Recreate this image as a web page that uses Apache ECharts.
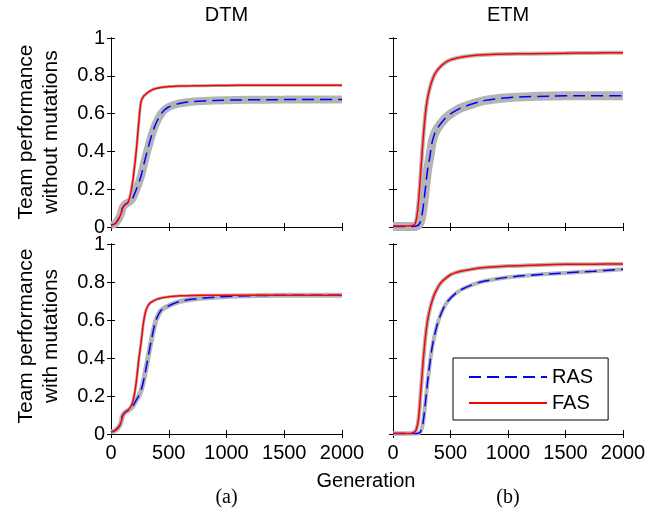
<!DOCTYPE html>
<html>
<head>
<meta charset="utf-8">
<script src="https://cdn.jsdelivr.net/npm/echarts@6/dist/echarts.min.js"></script>
<style>
  html, body { margin: 0; padding: 0; background: #fff; }
  #chart { width: 671px; height: 515px; }
</style>
</head>
<body>
<div id="chart"></div>
<script>
// generations sampled along the x axis
const gens = [0, 40, 80, 100, 120, 150, 180, 200, 220, 240, 260, 280, 300, 320, 340, 360, 380, 400, 430, 460, 500, 550, 600, 700, 800, 1000, 1200, 1500, 1750, 2000];

// DTM, without mutations
const dtmNoMutRAS = [0.01, 0.02, 0.06, 0.1, 0.118, 0.13, 0.145, 0.17, 0.2, 0.232, 0.27, 0.32, 0.37, 0.415, 0.46, 0.5, 0.535, 0.562, 0.595, 0.618, 0.635, 0.647, 0.655, 0.663, 0.667, 0.671, 0.673, 0.674, 0.675, 0.675];
const dtmNoMutFAS = [0.01, 0.02, 0.06, 0.1, 0.118, 0.134, 0.21, 0.3, 0.41, 0.55, 0.663, 0.69, 0.702, 0.712, 0.72, 0.727, 0.731, 0.734, 0.738, 0.741, 0.743, 0.745, 0.746, 0.747, 0.748, 0.749, 0.75, 0.75, 0.75, 0.75];
// ETM, without mutations
const etmNoMutRAS = [0.003, 0.003, 0.003, 0.003, 0.003, 0.003, 0.003, 0.005, 0.01, 0.03, 0.095, 0.195, 0.3, 0.37, 0.448, 0.49, 0.515, 0.535, 0.558, 0.578, 0.598, 0.617, 0.632, 0.653, 0.67, 0.684, 0.69, 0.694, 0.695, 0.695];
const etmNoMutFAS = [0.005, 0.005, 0.005, 0.005, 0.005, 0.006, 0.01, 0.03, 0.12, 0.28, 0.45, 0.59, 0.68, 0.735, 0.775, 0.805, 0.825, 0.84, 0.858, 0.872, 0.884, 0.893, 0.9, 0.907, 0.911, 0.915, 0.917, 0.919, 0.921, 0.922];
// DTM, with mutations
const dtmMutRAS = [0.01, 0.02, 0.05, 0.095, 0.113, 0.125, 0.14, 0.158, 0.18, 0.2, 0.228, 0.275, 0.335, 0.4, 0.465, 0.525, 0.58, 0.615, 0.648, 0.663, 0.675, 0.688, 0.698, 0.709, 0.716, 0.724, 0.728, 0.73, 0.73, 0.73];
const dtmMutFAS = [0.01, 0.02, 0.05, 0.095, 0.113, 0.126, 0.155, 0.2, 0.28, 0.39, 0.48, 0.582, 0.645, 0.675, 0.69, 0.698, 0.705, 0.71, 0.715, 0.719, 0.722, 0.725, 0.727, 0.729, 0.73, 0.73, 0.73, 0.73, 0.73, 0.73];
// ETM, with mutations
const etmMutRAS = [0.002, 0.002, 0.002, 0.002, 0.002, 0.002, 0.002, 0.002, 0.004, 0.012, 0.055, 0.155, 0.27, 0.37, 0.455, 0.515, 0.565, 0.605, 0.65, 0.685, 0.715, 0.742, 0.762, 0.788, 0.805, 0.825, 0.836, 0.848, 0.857, 0.867];
const etmMutFAS = [0.003, 0.003, 0.003, 0.003, 0.003, 0.003, 0.008, 0.02, 0.07, 0.21, 0.365, 0.5, 0.595, 0.655, 0.7, 0.735, 0.76, 0.782, 0.805, 0.82, 0.838, 0.85, 0.858, 0.869, 0.876, 0.884, 0.888, 0.893, 0.894, 0.895];

const xTicks = [0, 500, 1000, 1500, 2000];
const yTicks = [0, 0.2, 0.4, 0.6, 0.8, 1];

const FONT = 'Liberation Sans';

const grids = [
  { left: 111, top: 38, width: 231, height: 189 },
  { left: 393, top: 38, width: 230, height: 189 },
  { left: 111, top: 244, width: 231, height: 190 },
  { left: 393, top: 244, width: 230, height: 190 }
];

const panels = [
  { ras: dtmNoMutRAS, fas: dtmNoMutFAS, bandR: 8, bandF: 3 },
  { ras: etmNoMutRAS, fas: etmNoMutFAS, bandR: 9, bandF: 4 },
  { ras: dtmMutRAS, fas: dtmMutFAS, bandR: 5, bandF: 3 },
  { ras: etmMutRAS, fas: etmMutFAS, bandR: 4, bandF: 4 }
];

const xAxes = []
const yAxes = []
const series = []

function pairs(vals) {
  return gens.map((g, i) => [g, vals[i]])
}

grids.forEach((g, i) => {
  const showX = i >= 2
  const showY = i % 2 === 0
  const base = {
    gridIndex: i, type: 'value', min: xTicks[0], max: xTicks[xTicks.length - 1], interval: 500,
    splitLine: { show: false },
    axisLine: { show: true, lineStyle: { color: '#000', width: 1 } },
    axisTick: { show: true, inside: true, length: 4, lineStyle: { color: '#000' } }
  }
  xAxes.push(Object.assign({}, base, {
    position: 'bottom',
    axisLabel: { show: showX, color: '#000', fontFamily: FONT, fontSize: 20, margin: 9, formatter: v => String(v) }
  }))
  xAxes.push(Object.assign({}, base, { position: 'top', axisLabel: { show: false } }))
  const ybase = Object.assign({}, base, { min: yTicks[0], max: yTicks[yTicks.length - 1], interval: 0.2 })
  yAxes.push(Object.assign({}, ybase, {
    position: 'left',
    axisLabel: { show: showY, color: '#000', fontFamily: FONT, fontSize: 20, margin: 6, formatter: v => String(v) }
  }))
  yAxes.push(Object.assign({}, ybase, { position: 'right', axisLabel: { show: false } }))

  const p = panels[i]
  const common = { type: 'line', xAxisIndex: 2 * i, yAxisIndex: 2 * i, showSymbol: false, symbol: 'none', smooth: 0.35, animation: false }
  series.push(Object.assign({}, common, { name: 'band', data: pairs(p.ras), lineStyle: { color: '#b4b4b4', width: p.bandR } }))
  series.push(Object.assign({}, common, { name: 'band', data: pairs(p.fas), lineStyle: { color: '#b4b4b4', width: p.bandF } }))
  series.push(Object.assign({}, common, { name: 'RAS', color: '#0000ff', data: pairs(p.ras), lineStyle: { color: '#0000ff', width: 1.5, type: [12, 6] } }))
  series.push(Object.assign({}, common, { name: 'FAS', color: '#ff0000', data: pairs(p.fas), lineStyle: { color: '#ff0000', width: 1.5 } }))
})

const chart = echarts.init(document.getElementById('chart'))
chart.setOption({
  backgroundColor: '#fff',
  animation: false,
  grid: grids,
  xAxis: xAxes,
  yAxis: yAxes,
  series: series,
  legend: {
    data: ['RAS', 'FAS'],
    orient: 'vertical',
    left: 453, top: 358,
    itemWidth: 78, itemHeight: 14, itemGap: 6,
    padding: [9, 15, 7, 15],
    borderColor: '#000', borderWidth: 1,
    backgroundColor: '#fff',
    selectedMode: false,
    itemStyle: { opacity: 0 },
    textStyle: { color: '#000', fontFamily: FONT, fontSize: 20 }
  },
  graphic: [
    { type: 'text', style: { text: 'DTM', x: 226.5, y: 15, textAlign: 'center', textVerticalAlign: 'middle', font: '20px ' + FONT, fill: '#000' } },
    { type: 'text', style: { text: 'ETM', x: 508, y: 15, textAlign: 'center', textVerticalAlign: 'middle', font: '20px ' + FONT, fill: '#000' } },
    { type: 'text', x: 39, y: 132, rotation: Math.PI / 2, style: { text: 'Team performance\nwithout mutations', textAlign: 'center', textVerticalAlign: 'middle', font: '21px ' + FONT, lineHeight: 25, fill: '#000' } },
    { type: 'text', x: 39, y: 336, rotation: Math.PI / 2, style: { text: 'Team performance\nwith mutations', textAlign: 'center', textVerticalAlign: 'middle', font: '21px ' + FONT, lineHeight: 25, fill: '#000' } },
    { type: 'text', style: { text: 'Generation', x: 366, y: 481, textAlign: 'center', textVerticalAlign: 'middle', font: '20px ' + FONT, fill: '#000' } },
    { type: 'text', style: { text: '(a)', x: 226.5, y: 498, textAlign: 'center', textVerticalAlign: 'middle', font: '20px Liberation Serif', fill: '#000' } },
    { type: 'text', style: { text: '(b)', x: 508, y: 498, textAlign: 'center', textVerticalAlign: 'middle', font: '20px Liberation Serif', fill: '#000' } }
  ]
})
</script>
</body>
</html>
